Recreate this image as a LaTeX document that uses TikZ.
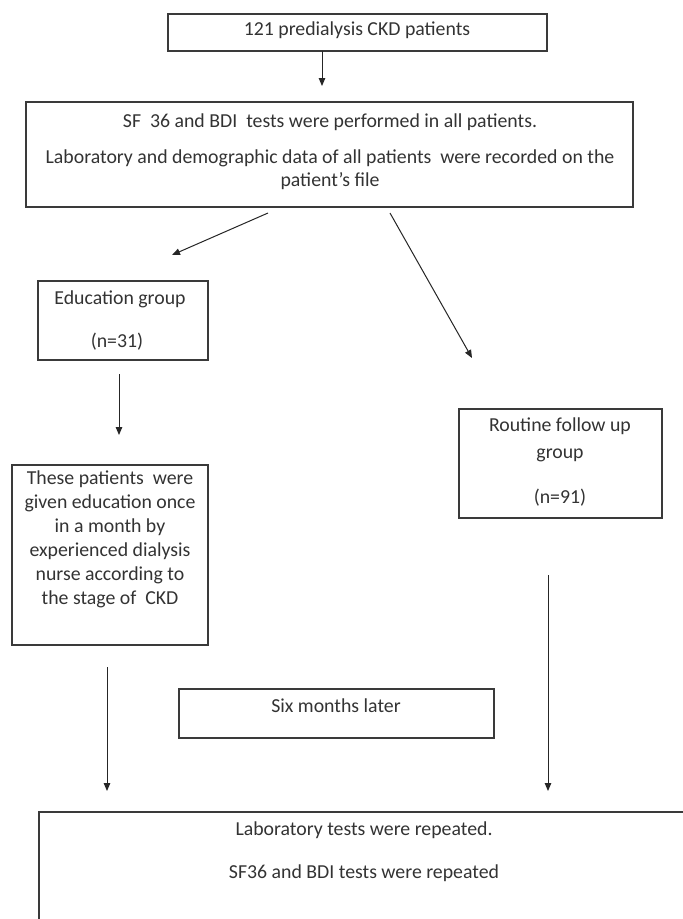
\documentclass[tikz,border=0pt]{standalone}
\usepackage{fontspec}
\setmainfont{Carlito}
\usetikzlibrary{arrows.meta}
\definecolor{ink}{HTML}{333333}
\definecolor{edge}{HTML}{3A3A3A}
\begin{document}
\begin{tikzpicture}[x=1pt,y=-1pt,
  box/.style={draw=edge,line width=1.4pt,rectangle,inner sep=0pt},
  txt/.style={text=ink,font=\fontsize{19.8}{23}\selectfont,anchor=mid,inner sep=0pt},
  arr/.style={draw=black!85,line width=1pt,-{Triangle[length=8pt,width=6.5pt]}}]
\useasboundingbox (0,0) rectangle (683,919);
\clip (0,0) rectangle (683,919);
\fill[white] (0,0) rectangle (683,919);
% boxes
\node[box,minimum width=379pt,minimum height=37pt] (b1) at (357.5,32.5) {};
\node[box,minimum width=607pt,minimum height=105pt] (b2) at (329.5,154.5) {};
\node[box,minimum width=170pt,minimum height=79pt] (edu) at (123,320.5) {};
\node[box,minimum width=196pt,minimum height=180pt] (these) at (110,555) {};
\node[box,minimum width=203pt,minimum height=109pt] (rout) at (560.5,463.5) {};
\node[box,minimum width=315pt,minimum height=49pt] (six) at (336.5,713.5) {};
\node[box,minimum width=680pt,minimum height=140pt] (fin) at (379,882) {};
% texts
\node[txt] (t1) at (357,33) {121 predialysis CKD patients};
\node[txt] (t2a) at (330,125) {SF\ \ 36 and BDI\ \ tests were performed in all patients.};
\node[txt] (t2b) at (330,161) {Laboratory and demographic data of all patients\ \ were recorded on the};
\node[txt] (t2c) at (330,184) {patient's file};
\node[txt] (te1) at (120,302) {Education group};
\node[txt] (te2) at (117,345) {(n=31)};
\node[txt] (th1) at (110,482) {These patients\ \ were};
\node[txt] (th2) at (110,506) {given education once};
\node[txt] (th3) at (110,530) {in a month by};
\node[txt] (th4) at (110,554) {experienced dialysis};
\node[txt] (th5) at (110,578) {nurse according to};
\node[txt] (th6) at (110,602) {the stage of\ \ CKD};
\node[txt] (tr1) at (560,429) {Routine follow up};
\node[txt] (tr2) at (560,456) {group};
\node[txt] (tr3) at (560,501) {(n=91)};
\node[txt] (ts) at (336,710) {Six months later};
\node[txt] (tf1) at (364,833) {Laboratory tests were repeated.};
\node[txt] (tf2) at (364,876) {SF36 and BDI tests were repeated};
% connector end points
\coordinate (a1s) at (322,51);
\coordinate (a1e) at (322,86);
\coordinate (a2s) at (268,213);
\coordinate (a2e) at (172,255);
\coordinate (a3s) at (390,213);
\coordinate (a3e) at (472,358);
\coordinate (a4s) at (119,374);
\coordinate (a4e) at (119,435);
\coordinate (a5s) at (548,575);
\coordinate (a5e) at (548,791);
\coordinate (a6s) at (107,667);
\coordinate (a6e) at (107,791);
% connectors
\draw[arr] (a1s) -- (a1e);
\draw[arr] (a2s) -- (a2e);
\draw[arr] (a3s) -- (a3e);
\draw[arr] (a4s) -- (a4e);
\draw[arr] (a5s) -- (a5e);
\draw[arr] (a6s) -- (a6e);
\end{tikzpicture}
\end{document}
